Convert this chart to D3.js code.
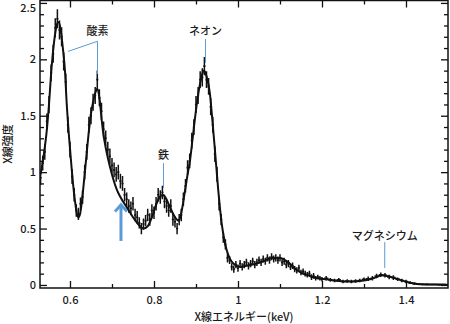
<!DOCTYPE html>
<html>
<head>
<meta charset="utf-8">
<script src="https://cdn.jsdelivr.net/npm/d3@7"></script>
<style>
  body { margin: 0; background: #fff; }
  svg text { font-family: "Noto Sans CJK JP", "Noto Sans", sans-serif; font-weight: 500; fill: #1a1a1a; }
</style>
</head>
<body>
<svg id="chart" width="450" height="324"></svg>
<script>
// model curve (keV, intensity)
const modelCurve = [
  [0.53,0.98],[0.54,1.22],[0.545,1.38],[0.55,1.60],[0.556,1.92],[0.562,2.15],[0.567,2.28],
  [0.572,2.33],[0.577,2.28],[0.583,2.10],[0.588,1.90],[0.592,1.62],[0.598,1.30],[0.604,1.03],
  [0.608,0.87],[0.612,0.74],[0.616,0.64],[0.620,0.60],[0.624,0.63],[0.628,0.73],[0.632,0.87],
  [0.638,1.10],[0.644,1.33],[0.650,1.52],[0.655,1.62],[0.660,1.70],[0.665,1.74],[0.670,1.66],
  [0.675,1.48],[0.679,1.35],[0.687,1.18],[0.695,1.05],[0.703,0.94],[0.711,0.85],[0.72,0.78],
  [0.735,0.69],[0.75,0.60],[0.767,0.52],[0.775,0.50],[0.785,0.52],[0.795,0.60],[0.806,0.72],
  [0.814,0.78],[0.821,0.80],[0.828,0.77],[0.838,0.69],[0.85,0.60],[0.858,0.57],[0.864,0.62],
  [0.869,0.72],[0.874,0.84],[0.880,0.98],[0.886,1.11],[0.892,1.30],[0.898,1.49],[0.904,1.66],
  [0.910,1.79],[0.915,1.87],[0.919,1.90],[0.925,1.85],[0.933,1.70],[0.939,1.46],[0.945,1.20],
  [0.953,0.84],[0.961,0.55],[0.967,0.41],[0.973,0.31],[0.981,0.23],[0.989,0.19],[1.005,0.16],
  [1.02,0.17],[1.044,0.19],[1.06,0.21],[1.08,0.24],[1.1,0.24],[1.12,0.20],[1.131,0.16],
  [1.15,0.11],[1.171,0.08],[1.19,0.06],[1.211,0.05],[1.24,0.035],[1.267,0.03],[1.29,0.035],
  [1.314,0.05],[1.33,0.07],[1.342,0.085],[1.355,0.08],[1.37,0.065],[1.386,0.045],[1.41,0.02],
  [1.44,0.005],[1.47,0.003],[1.5,0.002]
];

// observed spectrum: [keV, intensity, error]
const spectrum = [
  [0.530,0.95,.065],[0.535,1.08,.065],[0.540,1.18,.07],[0.545,1.45,.07],[0.550,1.60,.075],
  [0.555,1.88,.075],[0.560,2.05,.08],[0.565,2.28,.085],[0.570,2.36,.085],[0.575,2.26,.085],
  [0.580,2.20,.085],[0.585,1.98,.08],[0.590,1.80,.075],[0.595,1.42,.07],[0.600,1.20,.07],
  [0.605,0.96,.065],[0.610,0.80,.06],[0.615,0.66,.055],[0.620,0.63,.055],[0.625,0.72,.055],
  [0.630,0.78,.06],[0.635,1.00,.065],[0.640,1.18,.07],[0.645,1.42,.07],[0.650,1.50,.075],
  [0.655,1.62,.075],[0.660,1.68,.075],[0.665,1.82,.08],[0.670,1.66,.075],[0.675,1.54,.075],
  [0.680,1.38,.07],[0.685,1.30,.07],[0.690,1.20,.07],[0.695,1.14,.07],[0.700,1.06,.065],
  [0.705,1.02,.065],[0.710,0.98,.065],[0.715,1.00,.065],[0.720,0.92,.065],[0.725,0.90,.065],
  [0.730,0.80,.06],[0.735,0.76,.06],[0.740,0.70,.06],[0.745,0.68,.06],[0.750,0.72,.06],
  [0.755,0.62,.055],[0.760,0.60,.055],[0.765,0.55,.05],[0.770,0.50,.05],[0.775,0.54,.05],
  [0.780,0.57,.05],[0.785,0.62,.055],[0.790,0.58,.055],[0.795,0.66,.055],[0.800,0.64,.055],
  [0.805,0.72,.06],[0.810,0.80,.06],[0.815,0.78,.06],[0.820,0.82,.06],[0.825,0.74,.06],
  [0.830,0.70,.06],[0.835,0.66,.055],[0.840,0.70,.06],[0.845,0.58,.055],[0.850,0.56,.05],
  [0.855,0.50,.05],[0.860,0.58,.05],[0.865,0.62,.055],[0.870,0.76,.06],[0.875,0.88,.06],
  [0.880,1.04,.065],[0.885,1.10,.065],[0.890,1.28,.07],[0.895,1.40,.07],[0.900,1.60,.075],
  [0.905,1.68,.075],[0.910,1.82,.075],[0.915,1.84,.08],[0.920,1.94,.08],[0.925,1.82,.075],
  [0.930,1.76,.075],[0.935,1.58,.075],[0.940,1.42,.07],[0.945,1.16,.07],[0.950,0.98,.065],
  [0.955,0.72,.06],[0.960,0.58,.05],[0.965,0.42,.045],[0.970,0.36,.045],[0.975,0.24,.04],
  [0.980,0.22,.035],[0.985,0.16,.032],[0.990,0.14,.032],[0.995,0.18,.032],[1.000,0.15,.032],
  [1.005,0.19,.032],[1.010,0.16,.032],[1.015,0.18,.032],[1.020,0.20,.032],[1.025,0.17,.032],
  [1.030,0.19,.032],[1.035,0.21,.032],[1.040,0.18,.032],[1.045,0.20,.032],[1.050,0.22,.032],
  [1.055,0.20,.032],[1.060,0.23,.032],[1.065,0.21,.032],[1.070,0.24,.032],[1.075,0.22,.032],
  [1.080,0.25,.032],[1.085,0.23,.032],[1.090,0.24,.032],[1.095,0.22,.032],[1.100,0.24,.032],
  [1.105,0.20,.032],[1.110,0.21,.032],[1.115,0.18,.032],[1.120,0.19,.032],[1.125,0.16,.028],
  [1.130,0.17,.028],[1.135,0.14,.028],[1.140,0.13,.028],[1.145,0.15,.028],[1.150,0.11,.025],
  [1.155,0.12,.025],[1.160,0.10,.025],[1.165,0.09,.025],[1.170,0.10,.025],[1.175,0.07,.025],
  [1.180,0.08,.025],[1.185,0.06,.02],[1.190,0.07,.02],[1.195,0.06,.02],[1.20,0.05,.02],
  [1.21,0.06,.02],[1.22,0.045,.016],[1.23,0.04,.016],[1.24,0.045,.016],[1.25,0.03,.016],
  [1.26,0.035,.016],[1.27,0.03,.016],[1.28,0.035,.016],[1.29,0.04,.016],[1.30,0.05,.016],
  [1.31,0.055,.02],[1.32,0.06,.02],[1.33,0.08,.02],[1.34,0.09,.02],[1.35,0.085,.02],
  [1.36,0.07,.02],[1.37,0.065,.02],[1.38,0.05,.016],[1.39,0.04,.016],[1.40,0.03,.016],
  [1.41,0.02,.012],[1.42,0.012,.01],[1.43,0.008,.008],[1.44,0.006,.006],[1.45,0.005,.006],
  [1.46,0.004,.005],[1.47,0.004,.005],[1.48,0.003,.005],[1.49,0.003,.005]
];

const xMajor = [0.6, 0.8, 1.0, 1.2, 1.4];
const xMajorLabels = ["0.6", "0.8", "1", "1.2", "1.4"];
const xMinor = [0.7, 0.9, 1.1, 1.3];
const yMajor = [0, 0.5, 1, 1.5, 2, 2.5];
const yMajorLabels = ["0", "0.5", "1", "1.5", "2", "2.5"];
const yMinor = [0.1,0.2,0.3,0.4,0.6,0.7,0.8,0.9,1.1,1.2,1.3,1.4,1.6,1.7,1.8,1.9,2.1,2.2,2.3,2.4];

// element labels: [text, keV, intensity]
const lineLabels = [
  ["酸素", 0.6655, 2.22],
  ["ネオン", 0.9226, 2.22],
  ["鉄", 0.8227, 1.12],
  ["マグネシウム", 1.3494, 0.40]
];

const blue = "#5b9bd5";
const svg = d3.select("#chart");
const pLeft = 40, pRight = 448, pTop = 0.5, pBottom = 288;

const x = d3.scaleLinear().domain([0.5286, 1.5]).range([pLeft, pRight]);
const y = d3.scaleLinear().domain([-0.027, 2.526]).range([pBottom, 0]);

svg.append("defs").append("clipPath").attr("id", "clip")
  .append("rect").attr("x", pLeft).attr("y", pTop).attr("width", pRight - pLeft).attr("height", pBottom - pTop);

const plot = svg.append("g").attr("clip-path", "url(#clip)");

// data crosses
spectrum.forEach((d, i) => {
  const prev = spectrum[i - 1], next = spectrum[i + 1];
  const hwL = prev ? (d[0] - prev[0]) / 2 : (next[0] - d[0]) / 2;
  const hwR = next ? (next[0] - d[0]) / 2 : hwL;
  plot.append("line")
    .attr("x1", x(d[0] - hwL)).attr("x2", x(d[0] + hwR))
    .attr("y1", y(d[1])).attr("y2", y(d[1]))
    .attr("stroke", "#111").attr("stroke-width", 1.6);
  plot.append("line")
    .attr("x1", x(d[0])).attr("x2", x(d[0]))
    .attr("y1", y(d[1] - d[2])).attr("y2", y(d[1] + d[2]))
    .attr("stroke", "#111").attr("stroke-width", 1.5);
});

// model
plot.append("path")
  .datum(modelCurve)
  .attr("fill", "none")
  .attr("stroke", "#111")
  .attr("stroke-width", 2)
  .attr("d", d3.line().x(d => x(d[0])).y(d => y(d[1])).curve(d3.curveMonotoneX));

// frame
svg.append("rect")
  .attr("x", pLeft).attr("y", pTop).attr("width", pRight - pLeft).attr("height", pBottom - pTop)
  .attr("fill", "none").attr("stroke", "#111").attr("stroke-width", 1.5);

// ticks
function tickAxis(axisFn, scale, vals, size, transform, labels) {
  const ax = axisFn(scale).tickValues(vals).tickSize(-size)
    .tickFormat(labels ? ((d, i) => labels[i]) : "");
  const g = svg.append("g").attr("transform", transform).call(ax);
  g.select(".domain").remove();
  g.selectAll(".tick line").attr("stroke", "#111").attr("stroke-width", 1.3);
  return g;
}
tickAxis(d3.axisBottom, x, xMajor, 7, `translate(0,${pBottom})`, xMajorLabels)
  .selectAll("text").attr("font-size", 11).attr("dy", "1.05em").attr("y", 4);
tickAxis(d3.axisBottom, x, xMinor, 4, `translate(0,${pBottom})`, null);
tickAxis(d3.axisTop, x, xMajor, 7, `translate(0,${pTop})`, null);
tickAxis(d3.axisTop, x, xMinor, 4, `translate(0,${pTop})`, null);
tickAxis(d3.axisLeft, y, yMajor, 7, `translate(${pLeft},0)`, yMajorLabels)
  .selectAll("text").attr("font-size", 11).attr("x", -4)
  .attr("dy", (d, i) => i === yMajor.length - 1 ? "0.8em" : "0.32em");
tickAxis(d3.axisLeft, y, yMinor, 4, `translate(${pLeft},0)`, null);
tickAxis(d3.axisRight, y, yMajor, 7, `translate(${pRight},0)`, null);
tickAxis(d3.axisRight, y, yMinor, 4, `translate(${pRight},0)`, null);
svg.selectAll(".tick text").attr("fill", "#1a1a1a")
  .style("font-family", "'Noto Sans CJK JP', sans-serif").style("font-weight", 500);

// axis titles
svg.append("text")
  .attr("x", 244).attr("y", 321)
  .attr("text-anchor", "middle").attr("font-size", 11)
  .text("X線エネルギー(keV)");
svg.append("text")
  .attr("transform", "translate(11.5,144) rotate(-90)")
  .attr("text-anchor", "middle").attr("font-size", 11)
  .text("X線強度");

// element labels
lineLabels.forEach(([t, e, v]) => {
  svg.append("text")
    .attr("x", x(e)).attr("y", y(v))
    .attr("text-anchor", "middle").attr("font-size", 11)
    .text(t);
});

// leader lines
const leaders = [
  [[0.6655, 2.16], [0.6655, 1.87]],
  [[0.6655, 2.16], [0.5951, 2.07]],
  [[0.9226, 2.18], [0.9226, 1.97]],
  [[0.8226, 1.08], [0.8226, 0.86]],
  [[1.3494, 0.38], [1.3494, 0.15]]
];
leaders.forEach(([a, b]) => {
  svg.append("line")
    .attr("x1", x(a[0])).attr("y1", y(a[1]))
    .attr("x2", x(b[0])).attr("y2", y(b[1]))
    .attr("stroke", blue).attr("stroke-width", 1);
});

// arrow marking the excess
const arrowE = 0.7214;
svg.append("line")
  .attr("x1", x(arrowE)).attr("x2", x(arrowE))
  .attr("y1", y(0.39)).attr("y2", y(0.70))
  .attr("stroke", blue).attr("stroke-width", 3);
svg.append("path")
  .attr("d", `M${x(arrowE) - 6},${y(0.65)} L${x(arrowE)},${y(0.71)} L${x(arrowE) + 6},${y(0.65)}`)
  .attr("fill", "none").attr("stroke", blue).attr("stroke-width", 3)
  .attr("stroke-linejoin", "miter");
</script>
</body>
</html>
